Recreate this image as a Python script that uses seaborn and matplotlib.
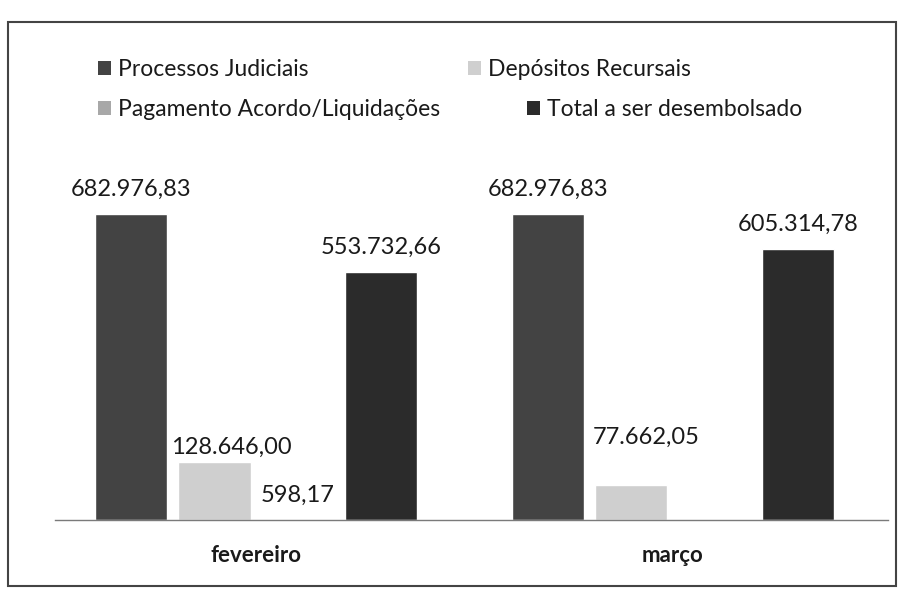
import numpy as np
import pandas as pd
import seaborn as sns
import matplotlib.pyplot as plt
from matplotlib.patches import Patch, Rectangle

## dados
meses = ['fevereiro', 'março']
series = ['Processos Judiciais', 'Depósitos Recursais',
          'Pagamento Acordo/Liquidações', 'Total a ser desembolsado']
processos = [682976.83, 682976.83]
depositos = [128646.00, 77662.05]
pagamento = [598.17, np.nan]   # sem valor em marco
total = [553732.66, 605314.78]

cores = ['#434343', '#cfcfcf', '#a8a8a8', '#2b2b2b']

sns.set_theme(style='white')
plt.rcParams['font.family'] = ['Lato', 'DejaVu Sans']

df = pd.DataFrame({
    'mes': meses * 4,
    'serie': [s for s in series for _ in meses],
    'valor': processos + depositos + pagamento + total,
})

W, H = 904, 592
fig = plt.figure(figsize=(W / 100, H / 100), dpi=100)
ax = fig.add_axes([55 / W, 72 / H, 833 / W, 403 / H])

sns.barplot(data=df, x='mes', y='valor', hue='serie', order=meses, hue_order=series,
            palette=cores, width=0.8, gap=0.13, saturation=1, errorbar=None,
            legend=False, ax=ax)


def fmt_br(v):
    return f'{v:,.2f}'.replace(',', 'X').replace('.', ',').replace('X', '.')


## rotulos de valor (alguns foram deslocados a mao no original)
ajuste = {('Depósitos Recursais', 'fevereiro'): (12, 6),
          ('Depósitos Recursais', 'março'): (11, 30)}
for container, serie in zip(ax.containers, series):
    for bar in container:
        h = bar.get_height()
        if np.isnan(h):
            continue
        xc = bar.get_x() + bar.get_width() / 2
        mes = meses[int(round(xc))]
        dx, dy = ajuste.get((serie, mes), (0, 13))
        ax.annotate(fmt_br(h), (xc, h), xytext=(dx, dy), textcoords='offset points',
                    ha='center', va='baseline', fontsize=17, color='#1a1a1a')

ax.set_xlim(-0.482, 1.516)
ax.set_ylim(0, 900000)
ax.set_yticks([])
ax.set_xlabel('')
ax.set_ylabel('')
for s in ['top', 'left', 'right']:
    ax.spines[s].set_visible(False)
ax.spines['bottom'].set_color('#7a7a7a')
ax.spines['bottom'].set_linewidth(1)
ax.tick_params(axis='x', length=0, pad=18, labelsize=16, labelcolor='#1a1a1a')
for lab in ax.get_xticklabels():
    lab.set_fontweight('bold')

## legenda: cada item na sua posicao (layout do Excel)
pos_leg = [(98, 70), (468, 70), (98, 110), (527, 110)]
for serie, cor, (px, py) in zip(series, cores, pos_leg):
    fig.legend([Patch(facecolor=cor, edgecolor='none')], [serie],
               loc='center left', bbox_to_anchor=(px / W, 1 - py / H),
               frameon=False, fontsize=16.5, handlelength=0.55, handleheight=0.55,
               handletextpad=0.32, borderpad=0, borderaxespad=0,
               labelcolor='#1a1a1a')

## moldura da area do grafico
fig.patches.append(Rectangle((8 / W, 1 - 586 / H), 888 / W, 564 / H, fill=False,
                             edgecolor='#444444', linewidth=1.5,
                             transform=fig.transFigure))

fig.savefig('out.png', dpi=100, facecolor='white')
